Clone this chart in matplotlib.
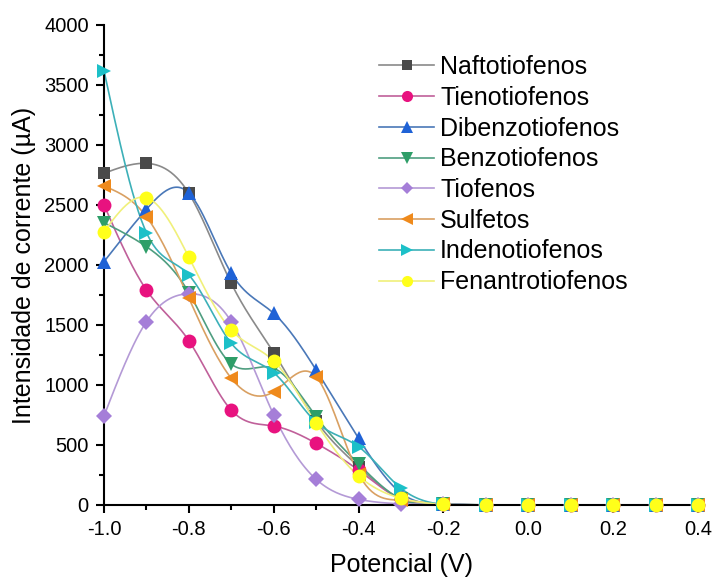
import numpy as np
import matplotlib
matplotlib.use("Agg")
import matplotlib.pyplot as plt
from matplotlib.ticker import MultipleLocator

plt.rcParams['font.family'] = ['Liberation Sans', 'DejaVu Sans']

potential = [-1.0, -0.9, -0.8, -0.7, -0.6, -0.5, -0.4, -0.3, -0.2, -0.1, 0.0, 0.1, 0.2, 0.3, 0.4]

naftotiofenos = [2764, 2847, 2597, 1847, 1270, 700, 320, 50, 5, 0, 0, 0, 0, 0, 0]
tienotiofenos = [2500, 1792, 1369, 790, 658, 514, 290, 50, 5, 0, 0, 0, 0, 0, 0]
dibenzotiofenos = [2028, 2464, 2600, 1931, 1597, 1125, 556, 100, 5, 0, 0, 0, 0, 0, 0]
benzotiofenos = [2353, 2153, 1770, 1175, 1140, 736, 342, 50, 5, 0, 0, 0, 0, 0, 0]
tiofenos = [742, 1528, 1760, 1528, 750, 214, 47, 10, 5, 0, 0, 0, 0, 0, 0]
sulfetos = [2658, 2403, 1722, 1056, 944, 1069, 260, 40, 5, 0, 0, 0, 0, 0, 0]
indenotiofenos = [3619, 2270, 1917, 1347, 1103, 690, 486, 139, 5, 0, 0, 0, 0, 0, 0]
fenantrotiofenos = [2278, 2561, 2064, 1458, 1200, 686, 242, 56, 5, 0, 0, 0, 0, 0, 0]

x_tick_labels = ["-1.0", "-0.8", "-0.6", "-0.4", "-0.2", "0.0", "0.2", "0.4"]

names = ["Naftotiofenos", "Tienotiofenos", "Dibenzotiofenos", "Benzotiofenos",
         "Tiofenos", "Sulfetos", "Indenotiofenos", "Fenantrotiofenos"]
series = [naftotiofenos, tienotiofenos, dibenzotiofenos, benzotiofenos,
          tiofenos, sulfetos, indenotiofenos, fenantrotiofenos]
colors = ["#4a4a4a", "#e8127f", "#1f62d6", "#2e9e68", "#a57ed8", "#ef8a1c", "#1cc0c8", "#ffff1a"]
line_colors = ["#8a8a8a", "#c0609a", "#4a78b8", "#4f9e80", "#b49ad6", "#d9a062", "#3cb0b8", "#f0f07a"]
markers = ["s", "o", "^", "v", "D", "<", ">", "o"]
msizes = [9, 10, 10, 10, 8, 10, 10, 10]


def natural_spline(x, y, n=400):
    x = np.asarray(x, float)
    y = np.asarray(y, float)
    k = len(x)
    h = np.diff(x)
    A = np.zeros((k, k))
    b = np.zeros(k)
    A[0, 0] = 1
    A[-1, -1] = 1
    for i in range(1, k - 1):
        A[i, i - 1] = h[i - 1]
        A[i, i] = 2 * (h[i - 1] + h[i])
        A[i, i + 1] = h[i]
        b[i] = 3 * ((y[i + 1] - y[i]) / h[i] - (y[i] - y[i - 1]) / h[i - 1])
    c = np.linalg.solve(A, b)
    xs = np.linspace(x[0], x[-1], n)
    idx = np.clip(np.searchsorted(x, xs) - 1, 0, k - 2)
    dx = xs - x[idx]
    bb = (y[idx + 1] - y[idx]) / h[idx] - h[idx] * (2 * c[idx] + c[idx + 1]) / 3
    d = (c[idx + 1] - c[idx]) / (3 * h[idx])
    ys = y[idx] + bb * dx + c[idx] * dx ** 2 + d * dx ** 3
    return xs, ys


fig = plt.figure(figsize=(7.15, 5.81), dpi=100)
ax = fig.add_axes([104 / 715, 1 - 505 / 581, (698 - 104) / 715, (505 - 25) / 581])

handles = []
for name, vals, c, lc, m, ms in zip(names, series, colors, line_colors, markers, msizes):
    xs, ys = natural_spline(potential, vals)
    ax.plot(xs, ys, color=lc, lw=1.2, zorder=2)
    ax.plot(potential, vals, linestyle="none", marker=m, color=c, markersize=ms,
            markeredgewidth=0, clip_on=False, zorder=3)
    h, = ax.plot([], [], color=lc, lw=1.2, marker=m, markerfacecolor=c,
                 markeredgewidth=0, markersize=ms * 0.8)
    handles.append(h)

ax.set_xlim(-1.0, 0.4)
ax.set_ylim(0, 4000)
ax.set_xticks(np.linspace(-1.0, 0.4, len(x_tick_labels)))
ax.set_xticklabels(x_tick_labels)
ax.xaxis.set_minor_locator(MultipleLocator(0.1))
ax.yaxis.set_major_locator(MultipleLocator(500))
ax.yaxis.set_minor_locator(MultipleLocator(250))

for s in ["top", "right"]:
    ax.spines[s].set_visible(False)
for s in ["left", "bottom"]:
    ax.spines[s].set_linewidth(1.5)
ax.tick_params(which="major", direction="out", length=6, width=1.5, labelsize=14.5, pad=5)
ax.tick_params(which="minor", direction="out", length=3.5, width=1.5)

ax.set_xlabel("Potencial (V)", fontsize=18, labelpad=10)
ax.set_ylabel("Intensidade de corrente (µA)", fontsize=18, labelpad=6)

leg = fig.legend(handles, names, loc="upper left", bbox_to_anchor=(379 / 715, 1 - 55 / 581),
                 frameon=False, fontsize=18, handlelength=2.2, handletextpad=0.25,
                 labelspacing=0.27, borderpad=0, borderaxespad=0)

fig.savefig("out.png", dpi=100)
